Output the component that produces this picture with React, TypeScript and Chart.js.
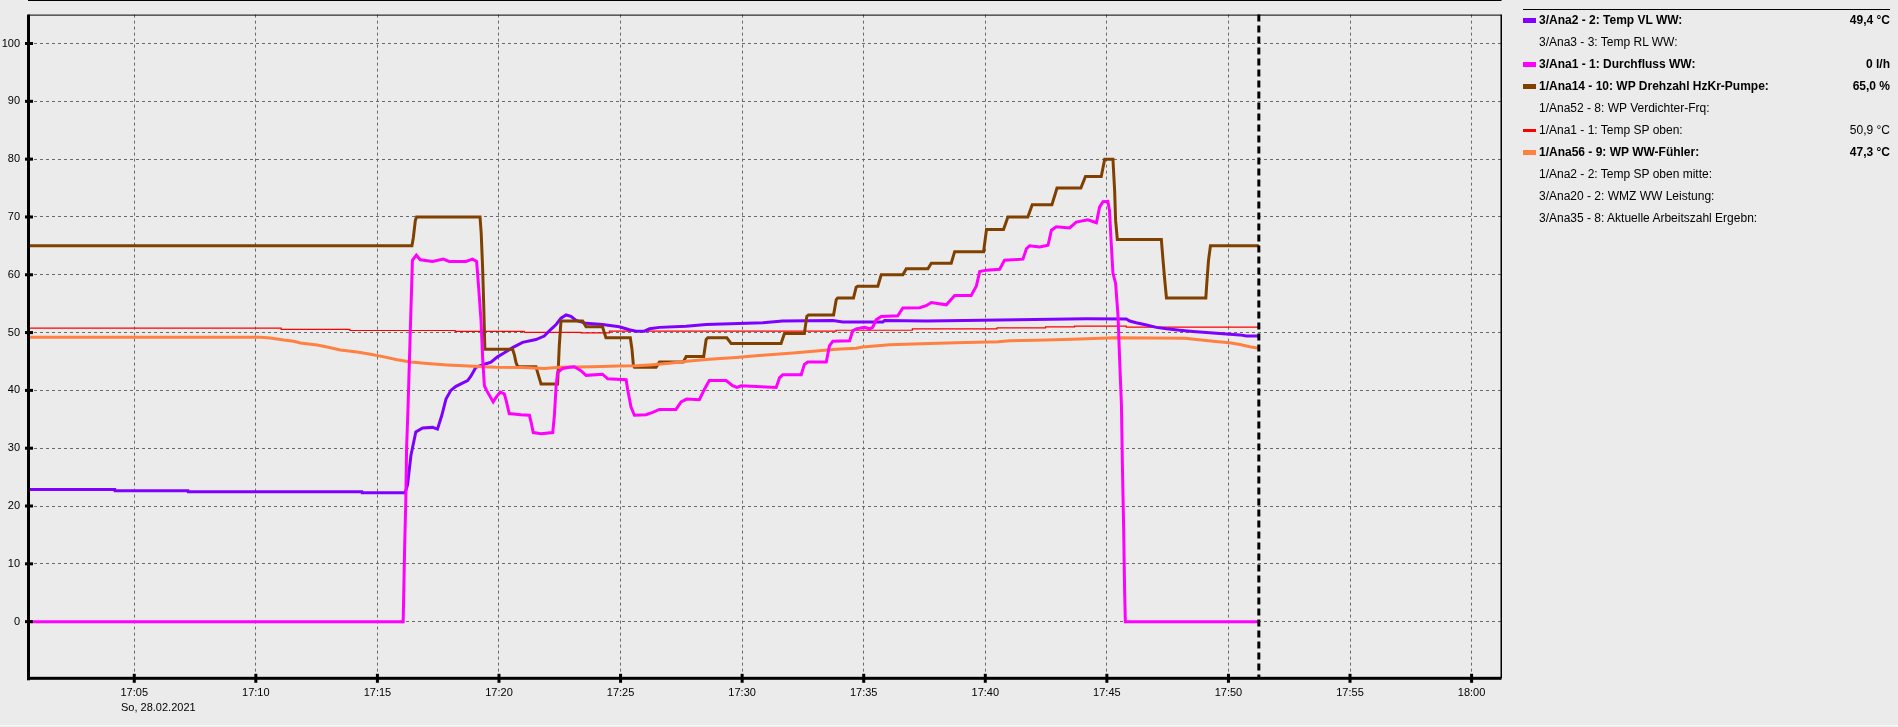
import React, { useEffect, useRef } from "react";
import { Chart, registerables } from "chart.js";

Chart.register(...registerables);

const W = 1898;
const H = 727;
const BG = "#ebebeb";
const FONT = "'Liberation Sans', Arial, Helvetica, sans-serif";

// x axis: minutes after 17:00
const X_MIN = 0.63;
const X_MAX = 61.23;
const Y_MIN = -9.8;
const Y_MAX = 105;
const NOW_MIN = 51.25;

const xTickMinutes = [5, 10, 15, 20, 25, 30, 35, 40, 45, 50, 55, 60];
const xTickLabels = ["17:05", "17:10", "17:15", "17:20", "17:25", "17:30", "17:35", "17:40", "17:45", "17:50", "17:55", "18:00"];
const yTickValues = [0, 10, 20, 30, 40, 50, 60, 70, 80, 90, 100];
const dateLabel = "So, 28.02.2021";

// 3/Ana2 - 2: Temp VL WW  [minute, value]
const tempVL: [number, number][] = [
  [0.63, 22.86], [4.2, 22.86], [4.21, 22.64], [7.21, 22.64], [7.22, 22.47], [14.36, 22.47], [14.37, 22.3],
  [16.14, 22.3], [16.24, 23.7], [16.38, 28.8], [16.58, 32.8], [16.86, 33.5], [17.27, 33.6], [17.47, 33.3],
  [17.65, 35.7], [17.82, 38.5], [18.02, 40], [18.23, 40.7], [18.71, 41.7], [18.85, 42.5], [19.05, 44],
  [19.47, 44.6], [19.67, 44.9], [19.94, 45.8], [20.22, 46.5], [20.56, 47.4], [20.97, 48.3], [21.52, 48.8],
  [21.86, 49.4], [22.07, 50.3], [22.35, 51.4], [22.55, 52.5], [22.76, 53.05], [22.96, 52.8], [23.17, 52.1],
  [23.58, 51.6], [24.26, 51.4], [24.95, 51.0], [25.36, 50.5], [25.64, 50.25], [25.98, 50.25], [26.19, 50.65],
  [26.6, 50.9], [27.7, 51.1], [28.52, 51.4], [30.85, 51.7], [31.67, 52.0], [33.73, 52.1], [34.14, 51.85],
  [35.79, 51.85], [35.86, 52.1], [37.57, 52.0], [39.15, 52.1], [44.16, 52.4], [45.8, 52.35], [45.94, 52.0],
  [46.21, 51.7], [46.63, 51.3], [47.04, 50.9], [47.45, 50.65], [48.0, 50.4], [48.54, 50.2], [49.23, 49.97],
  [49.78, 49.8], [50.47, 49.6], [50.74, 49.4], [51.25, 49.4],
];

// 3/Ana1 - 1: Durchfluss WW
const flowWW: [number, number][] = [
  [0.63, 0], [16.06, 0], [16.12, 12.8], [16.17, 21.4], [16.2, 29.9], [16.26, 37.1], [16.34, 48.5],
  [16.42, 59.7], [16.44, 62.5], [16.6, 63.4], [16.76, 62.6], [17.27, 62.3], [17.71, 62.7], [17.95, 62.3],
  [18.64, 62.3], [18.91, 62.7], [19.08, 62.3], [19.16, 58], [19.26, 52.2], [19.33, 45.4], [19.4, 40.8],
  [19.49, 40], [19.76, 38], [19.88, 38.8], [20.05, 39.7], [20.22, 39.4], [20.31, 38], [20.42, 36],
  [20.9, 35.8], [21.25, 35.7], [21.32, 34.5], [21.41, 32.7], [21.73, 32.5], [22.21, 32.7], [22.28, 35.7],
  [22.35, 40.8], [22.41, 43.1], [22.62, 43.8], [22.89, 44], [23.1, 44.1], [23.37, 43.4], [23.58, 42.6],
  [24.26, 42.8], [24.47, 42], [25.23, 41.85], [25.29, 40.2], [25.43, 37.1], [25.57, 35.7], [26.05, 35.8],
  [26.32, 36.2], [26.6, 36.7], [27.28, 36.7], [27.49, 38], [27.72, 38.5], [28.24, 38.4], [28.45, 40.2],
  [28.65, 41.7], [29.34, 41.7], [29.61, 40.8], [29.79, 40.5], [29.96, 40.8], [31.4, 40.5], [31.54, 42.2],
  [31.67, 42.7], [32.43, 42.7], [32.56, 44.5], [32.7, 44.9], [33.46, 44.9], [33.59, 47.7], [33.73, 48.5],
  [34.42, 48.6], [34.55, 50.3], [34.69, 50.65], [35.03, 50.9], [35.24, 50.65], [35.37, 50.9], [35.51, 52.2],
  [35.72, 52.8], [36.4, 52.9], [36.61, 54.25], [37.3, 54.3], [37.57, 54.65], [37.78, 55.2], [38.4, 54.8],
  [38.74, 56.4], [39.42, 56.4], [39.63, 58], [39.77, 60.55], [40.05, 60.8], [40.59, 60.95], [40.79, 62.5],
  [41.55, 62.7], [41.69, 64.5], [41.82, 65], [42.24, 64.8], [42.58, 65.1], [42.72, 67.7], [42.92, 68.3],
  [43.47, 68.1], [43.74, 69.1], [44.22, 69.5], [44.57, 69.0], [44.7, 71.7], [44.84, 72.65], [45.04, 72.7],
  [45.11, 71.1], [45.18, 65.4], [45.25, 60.3], [45.36, 58.5], [45.46, 52.8], [45.53, 44.8], [45.6, 37.4],
  [45.64, 26.8], [45.69, 16.2], [45.73, 5.4], [45.76, 0], [51.25, 0],
];

// 1/Ana14 - 10: WP Drehzahl HzKr-Pumpe
const pumpSpeed: [number, number][] = [
  [0.63, 65], [16.42, 65], [16.48, 66.5], [16.56, 69.4], [16.61, 70], [19.22, 70], [19.27, 67.1],
  [19.33, 60.8], [19.37, 55.1], [19.42, 47.1], [20.56, 47.1], [20.63, 46.2], [20.7, 44.8], [20.77, 44.1],
  [21.52, 44.1], [21.63, 42.5], [21.73, 41.1], [22.41, 41.1], [22.48, 47.7], [22.55, 52], [23.44, 52],
  [23.58, 51], [24.26, 51], [24.33, 50], [24.4, 49.1], [25.4, 49.1], [25.47, 47.1], [25.53, 44.25],
  [25.57, 44], [26.46, 44], [26.6, 44.9], [27.58, 44.9], [27.7, 45.85], [28.42, 45.85], [28.52, 48.8],
  [28.59, 49.1], [29.37, 49.1], [29.55, 48.1], [31.6, 48.1], [31.74, 49.85], [32.56, 49.85], [32.66, 52.8],
  [32.73, 53.05], [33.76, 53.05], [33.87, 55.7], [33.93, 56], [34.58, 56], [34.69, 57.85], [34.75, 58],
  [35.58, 58], [35.72, 60], [36.61, 60], [36.75, 61.05], [37.64, 61.05], [37.78, 62], [38.6, 62],
  [38.74, 64], [39.93, 64], [40.05, 67.85], [40.75, 67.85], [40.93, 70], [41.75, 70], [41.93, 72.1],
  [42.74, 72.1], [42.95, 75], [43.93, 75], [44.12, 77], [44.77, 77], [44.91, 80], [45.25, 80],
  [45.32, 74.5], [45.36, 69.4], [45.43, 66.1], [47.24, 66.1], [47.31, 62.5], [47.38, 59.1], [47.45, 56],
  [49.07, 56], [49.12, 59.1], [49.18, 62.5], [49.26, 65], [51.25, 65],
];

// 1/Ana1 - 1: Temp SP oben (step starts)
const tempSPoben: [number, number][] = [
  [0.63, 50.94], [11.04, 50.77], [13.87, 50.55], [18.2, 50.36], [21.04, 50.2], [23.37, 50.05],
  [24.54, 49.95], [33.87, 50.25], [37.0, 50.4], [40.48, 50.65], [42.48, 50.8], [43.67, 51.0],
  [45.8, 51.1], [50.35, 50.94], [51.25, 50.94],
];

// 1/Ana56 - 9: WP WW-Fühler
const wwSensor: [number, number][] = [
  [0.63, 49.2], [10.19, 49.2], [10.6, 49.05], [11.15, 48.7], [11.56, 48.5], [11.84, 48.2], [12.52, 47.85],
  [12.93, 47.5], [13.48, 47.0], [14.17, 46.65], [14.72, 46.25], [15.27, 45.8], [15.81, 45.3], [16.37, 44.9],
  [17.05, 44.65], [17.87, 44.4], [18.55, 44.25], [19.33, 44.1], [19.88, 44.0], [20.97, 43.95], [21.86, 43.8],
  [22.48, 44.0], [23.85, 44.1], [24.89, 44.2], [25.64, 44.25], [26.19, 44.4], [27.01, 44.7], [27.83, 45.1],
  [28.65, 45.4], [29.75, 45.7], [30.57, 46], [31.4, 46.25], [32.22, 46.5], [33.04, 46.8], [33.87, 47.1],
  [34.69, 47.3], [34.96, 47.5], [36.06, 47.9], [37.71, 48.1], [38.81, 48.25], [40.52, 48.4], [41.0, 48.6],
  [42.51, 48.7], [43.88, 48.9], [45.32, 49.1], [48.2, 49.0], [48.89, 48.7], [49.37, 48.5], [50.05, 48.25],
  [50.47, 47.95], [50.88, 47.55], [51.25, 47.3],
];

const legendLabels = [
  "3/Ana2 - 2: Temp VL WW:",
  "3/Ana3 - 3: Temp RL WW:",
  "3/Ana1 - 1: Durchfluss WW:",
  "1/Ana14 - 10: WP Drehzahl HzKr-Pumpe:",
  "1/Ana52 - 8: WP Verdichter-Frq:",
  "1/Ana1 - 1: Temp SP oben:",
  "1/Ana56 - 9: WP WW-Fühler:",
  "1/Ana2 - 2: Temp SP oben mitte:",
  "3/Ana20 - 2: WMZ WW Leistung:",
  "3/Ana35 - 8: Aktuelle Arbeitszahl Ergebn:",
];
const legendColors = ["#8000ff", "", "#ff00ff", "#804000", "", "#ff0000", "#ff8040", "", "", ""];
const legendBold = [true, false, true, true, false, false, true, false, false, false];
const legendValues = ["49,4 °C", "", "0 l/h", "65,0 %", "", "50,9 °C", "47,3 °C", "", "", ""];

const toPts = (s: [number, number][]) => s.map(([x, y]) => ({ x, y }));

const framePlugin = {
  id: "frame",
  afterDraw(chart: any) {
    const { ctx, chartArea: a, scales } = chart;
    const x = scales.x;
    const y = scales.y;
    ctx.save();
    ctx.fillStyle = "#000";
    ctx.fillRect(a.left, 0, a.right - a.left, 1);
    ctx.fillRect(a.left, a.top, a.right - a.left, 1);
    ctx.fillRect(a.right - 1, a.top, 1.5, a.bottom - a.top);
    const nx = x.getPixelForValue(NOW_MIN);
    ctx.strokeStyle = "#000";
    ctx.lineWidth = 3;
    ctx.setLineDash([7, 4]);
    ctx.beginPath();
    ctx.moveTo(nx, a.top);
    ctx.lineTo(nx, a.bottom);
    ctx.stroke();
    ctx.setLineDash([]);
    ctx.fillRect(a.left - 1, a.top, 3, a.bottom - a.top + 2);
    ctx.fillRect(a.left - 1, a.bottom - 1.5, a.right - a.left + 1, 3);
    yTickValues.forEach((v) => {
      const py = y.getPixelForValue(v);
      ctx.fillRect(a.left - 3, py - 1.5, 8, 3);
    });
    xTickMinutes.forEach((m) => {
      const px = x.getPixelForValue(m);
      ctx.fillRect(px - 1.5, a.bottom - 4.5, 3, 9);
    });
    ctx.restore();
  },
};

export default function App() {
  const ref = useRef<HTMLCanvasElement | null>(null);

  useEffect(() => {
    document.body.style.margin = "0";
    const canvas = ref.current;
    if (!canvas) return;
    const line = (data: [number, number][], color: string, width: number, extra: any = {}) => ({
      data: toPts(data),
      borderColor: color,
      backgroundColor: color,
      borderWidth: width,
      pointRadius: 0,
      tension: 0,
      fill: false,
      ...extra,
    });
    const chart = new Chart(canvas, {
      type: "line",
      data: {
        datasets: [
          { label: "Durchfluss WW", ...line(flowWW, "#ff00ff", 3) },
          { label: "WP WW-Fühler", ...line(wwSensor, "#ff8040", 3) },
          { label: "WP Drehzahl HzKr-Pumpe", ...line(pumpSpeed, "#804000", 3) },
          { label: "Temp VL WW", ...line(tempVL, "#8000ff", 3) },
          { label: "Temp SP oben", ...line(tempSPoben, "#ff0000", 1.2, { stepped: "after" }) },
        ],
      },
      options: {
        animation: false,
        responsive: false,
        devicePixelRatio: 1,
        parsing: false as any,
        layout: { padding: { top: 9, right: 396.5, left: 0, bottom: 0 } },
        plugins: { legend: { display: false }, tooltip: { enabled: false } },
        scales: {
          x: {
            type: "linear",
            min: X_MIN,
            max: X_MAX,
            afterBuildTicks: (s: any) => {
              s.ticks = xTickMinutes.map((v) => ({ value: v }));
            },
            afterFit: (s: any) => {
              s.height = 48.7;
            },
            ticks: {
              autoSkip: false,
              maxRotation: 0,
              padding: 8,
              color: "#000",
              font: { family: FONT, size: 11 },
              callback: (v: any) => {
                const i = xTickMinutes.indexOf(Number(v));
                return i >= 0 ? xTickLabels[i] : "";
              },
            },
            grid: { color: "#6a6a6a", lineWidth: 1, drawTicks: false },
            border: { display: false, dash: [3, 3] },
          },
          y: {
            type: "linear",
            min: Y_MIN,
            max: Y_MAX,
            afterBuildTicks: (s: any) => {
              s.ticks = yTickValues.map((v) => ({ value: v }));
            },
            afterFit: (s: any) => {
              s.width = 28;
            },
            ticks: {
              padding: 8,
              color: "#000",
              font: { family: FONT, size: 11 },
              callback: (v: any) => String(v),
            },
            grid: { color: "#6a6a6a", lineWidth: 1, drawTicks: false },
            border: { display: false, dash: [3, 3] },
          },
        },
      },
      plugins: [framePlugin],
    });
    return () => chart.destroy();
  }, []);

  return (
    <div
      style={{
        position: "fixed",
        left: 0,
        top: 0,
        width: W,
        height: H,
        background: BG,
        overflow: "hidden",
        fontFamily: FONT,
        color: "#000",
      }}
    >
      <canvas ref={ref} width={W} height={H} style={{ position: "absolute", left: 0, top: 0, width: W, height: H }} />
      <div style={{ position: "absolute", left: 121, top: 701, fontSize: 11, lineHeight: "13px", whiteSpace: "nowrap" }}>
        {dateLabel}
      </div>
      <div style={{ position: "absolute", left: 1523, top: 9, width: 367, height: 1, background: "#000" }} />
      {legendLabels.map((label, i) => (
        <div key={i} style={{ position: "absolute", left: 0, top: 9 + i * 22, width: W, height: 22 }}>
          {legendColors[i] ? (
            <div
              style={{
                position: "absolute",
                left: 1523,
                top: legendColors[i] === "#ff0000" ? 9.5 : 8.5,
                width: 13,
                height: legendColors[i] === "#ff0000" ? 3.5 : 5,
                background: legendColors[i],
              }}
            />
          ) : null}
          <span
            style={{
              position: "absolute",
              left: 1539,
              top: 0,
              lineHeight: "22px",
              fontSize: 12,
              fontWeight: legendBold[i] ? 700 : 400,
              whiteSpace: "nowrap",
            }}
          >
            {label}
          </span>
          {legendValues[i] ? (
            <span
              style={{
                position: "absolute",
                right: 8,
                top: 0,
                lineHeight: "22px",
                fontSize: 12,
                fontWeight: legendBold[i] ? 700 : 400,
                whiteSpace: "nowrap",
              }}
            >
              {legendValues[i]}
            </span>
          ) : null}
        </div>
      ))}
      <div style={{ position: "absolute", left: 0, top: 725, width: W, height: 1, background: "#f8f8f8" }} />
    </div>
  );
}
